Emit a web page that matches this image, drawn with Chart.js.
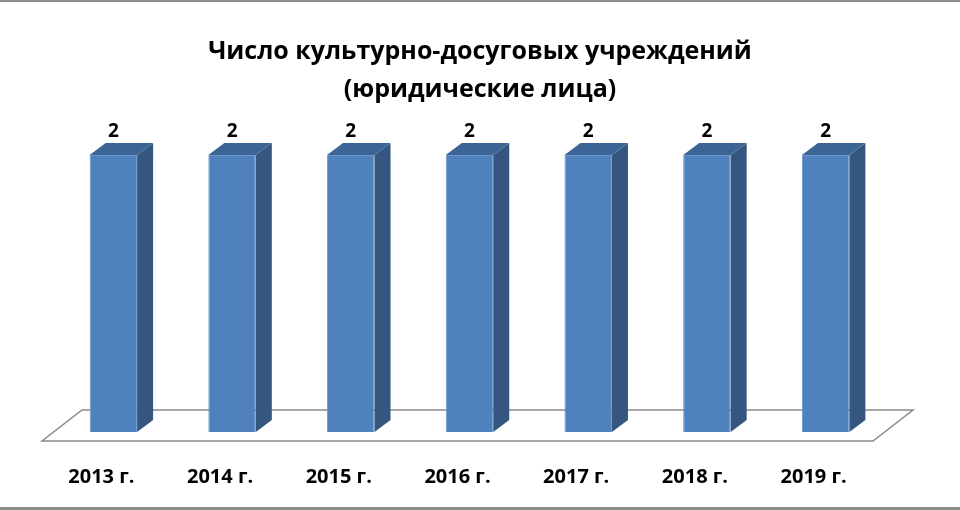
<!DOCTYPE html>
<html lang="ru">
<head>
  <meta charset="UTF-8">
  <title>Число культурно-досуговых учреждений</title>
  <script src="https://cdn.jsdelivr.net/npm/chart.js"></script>
  <style>
    html, body { margin: 0; padding: 0; background: #fff; }
    #wrap { width: 960px; height: 510px; position: relative; box-sizing: border-box;
            border-top: 2px solid #8c8c8c; border-bottom: 3px solid #8c8c8c; }
  </style>
</head>
<body>
  <div id="wrap"><canvas id="chart"></canvas></div>
  <script>
    // chart data
    const years = ['2013 г.', '2014 г.', '2015 г.', '2016 г.', '2017 г.', '2018 г.', '2019 г.'];
    const institutions = [2, 2, 2, 2, 2, 2, 2];
    const titleLines = ['Число культурно-досуговых учреждений', '(юридические лица)'];

    // depth of the fake 3d look
    const DX = 16, DY = -12;

    const fake3d = {
      id: 'fake3d',
      beforeDatasetsDraw(chart) {
        const { ctx, chartArea: a } = chart;
        // floor plane
        ctx.save();
        ctx.strokeStyle = '#8a8a8a';
        ctx.lineWidth = 1.5;
        ctx.fillStyle = '#fff';
        ctx.beginPath();
        ctx.moveTo(a.left - 12, a.bottom + 9);
        ctx.lineTo(a.right - 12, a.bottom + 9);
        ctx.lineTo(a.right + 28, a.bottom - 22);
        ctx.lineTo(a.left + 28, a.bottom - 22);
        ctx.closePath();
        ctx.fill();
        ctx.stroke();
        ctx.restore();
      },
      afterDatasetsDraw(chart) {
        const { ctx } = chart;
        const meta = chart.getDatasetMeta(0);
        const xs = chart.scales.x;
        ctx.save();
        meta.data.forEach((bar, i) => {
          const half = bar.width / 2;
          const l = bar.x - half, r = bar.x + half, t = bar.y, b = bar.base;
          // side face
          ctx.fillStyle = '#34567f';
          ctx.beginPath();
          ctx.moveTo(r, t);
          ctx.lineTo(r + DX, t + DY);
          ctx.lineTo(r + DX, b + DY);
          ctx.lineTo(r, b);
          ctx.closePath();
          ctx.fill();
          // top face
          ctx.fillStyle = '#3c6595';
          ctx.beginPath();
          ctx.moveTo(l, t);
          ctx.lineTo(l + DX, t + DY);
          ctx.lineTo(r + DX, t + DY);
          ctx.lineTo(r, t);
          ctx.closePath();
          ctx.fill();
          // value label
          ctx.fillStyle = '#000';
          ctx.font = 'bold 19px "Open Sans", sans-serif';
          ctx.textAlign = 'center';
          ctx.textBaseline = 'middle';
          ctx.fillText(String(institutions[i]), bar.x, t - 23);
          // category label, shifted to the front edge of the floor
          ctx.font = 'bold 20px "Open Sans", sans-serif';
          ctx.fillText(xs.getLabelForValue(i), xs.getPixelForValue(i) - 12, 475);
        });
        ctx.restore();
      }
    };

    new Chart(document.getElementById('chart'), {
      type: 'bar',
      data: {
        labels: years,
        datasets: [{
          data: institutions,
          backgroundColor: '#4f81bd',
          borderColor: '#6a97cc',
          borderWidth: 1,
          barPercentage: 0.4,
          categoryPercentage: 1.0
        }]
      },
      options: {
        responsive: true,
        maintainAspectRatio: false,
        animation: false,
        devicePixelRatio: 1,
        layout: { padding: { left: 54, right: 54, top: 0, bottom: 75 } },
        plugins: {
          legend: { display: false },
          tooltip: { enabled: false },
          title: {
            display: true,
            text: titleLines,
            color: '#000',
            font: { family: '"Open Sans", sans-serif', size: 25, weight: 'bold', lineHeight: 1.52 },
            padding: { top: 31, bottom: 46 }
          }
        },
        scales: {
          x: { display: false },
          y: { display: false, min: 0, max: 2 },
          // empty spacer on the right so the title stays centred on the page
          y2: {
            position: 'right', min: 0, max: 2,
            grid: { display: false }, border: { display: false },
            ticks: { display: false },
            afterFit(s) { s.width = 21; }
          }
        }
      },
      plugins: [fake3d]
    });
  </script>
</body>
</html>
